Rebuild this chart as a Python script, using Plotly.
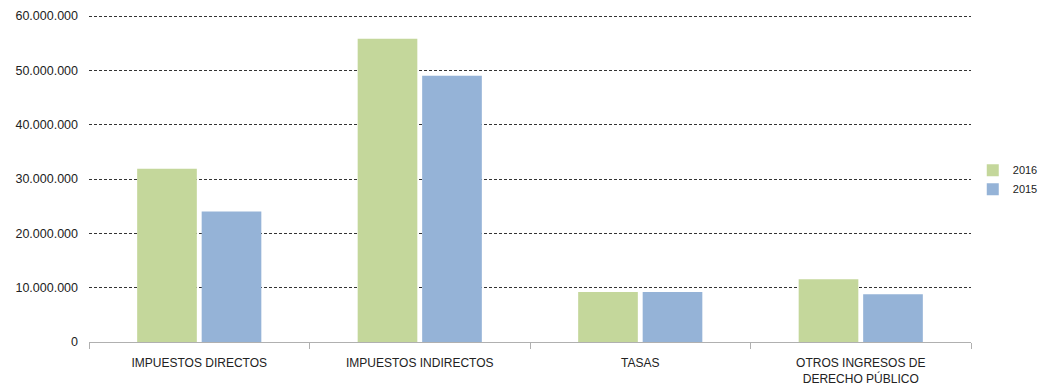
import plotly.graph_objects as go

categories = ["IMPUESTOS DIRECTOS", "IMPUESTOS INDIRECTOS", "TASAS",
              "OTROS INGRESOS DE<br>DERECHO PÚBLICO"]
values_2016 = [31900000, 55800000, 9200000, 11550000]
values_2015 = [24000000, 49000000, 9200000, 8800000]
y_ticks = [0, 10000000, 20000000, 30000000, 40000000, 50000000, 60000000]

fig = go.Figure()
fig.add_trace(go.Bar(name="2016", x=categories, y=values_2016, marker_color="#c4d79b",
                     marker_line_width=0))
fig.add_trace(go.Bar(name="2015", x=categories, y=values_2015, marker_color="#95b3d7",
                     marker_line_width=0))

# page has an 8px body margin, so the figure margins compensate
fig.update_layout(
    width=1040, height=384,
    margin=dict(l=81, r=77, t=6, b=50, autoexpand=False),
    paper_bgcolor="white", plot_bgcolor="white",
    barmode="group", bargap=0.415, bargroupgap=0.075,
    separators=",.",
    font=dict(family="Liberation Sans, Arial, sans-serif", size=11, color="#222"),
    legend=dict(x=1.002, y=0.495, xanchor="left", yanchor="middle",
                font=dict(size=11), itemwidth=30, tracegroupgap=0),
    showlegend=True,
)
fig.update_xaxes(
    type="category", showline=True, linecolor="#b0b0b0", linewidth=1,
    ticks="outside", tickson="boundaries", ticklen=6, tickcolor="#b0b0b0",
    tickfont=dict(size=12, color="#222"), showgrid=False, automargin=False,
    ticklabelstandoff=10,
)
fig.update_yaxes(
    range=[0, 60370000], tickvals=y_ticks, tickformat=",.0f",
    showgrid=True, gridcolor="#333", gridwidth=1, griddash="3px,2px",
    zeroline=False, tickfont=dict(size=12.5, color="#222"), ticks="", ticklabelstandoff=10,
    automargin=False,
)

fig.write_html("out.html")
